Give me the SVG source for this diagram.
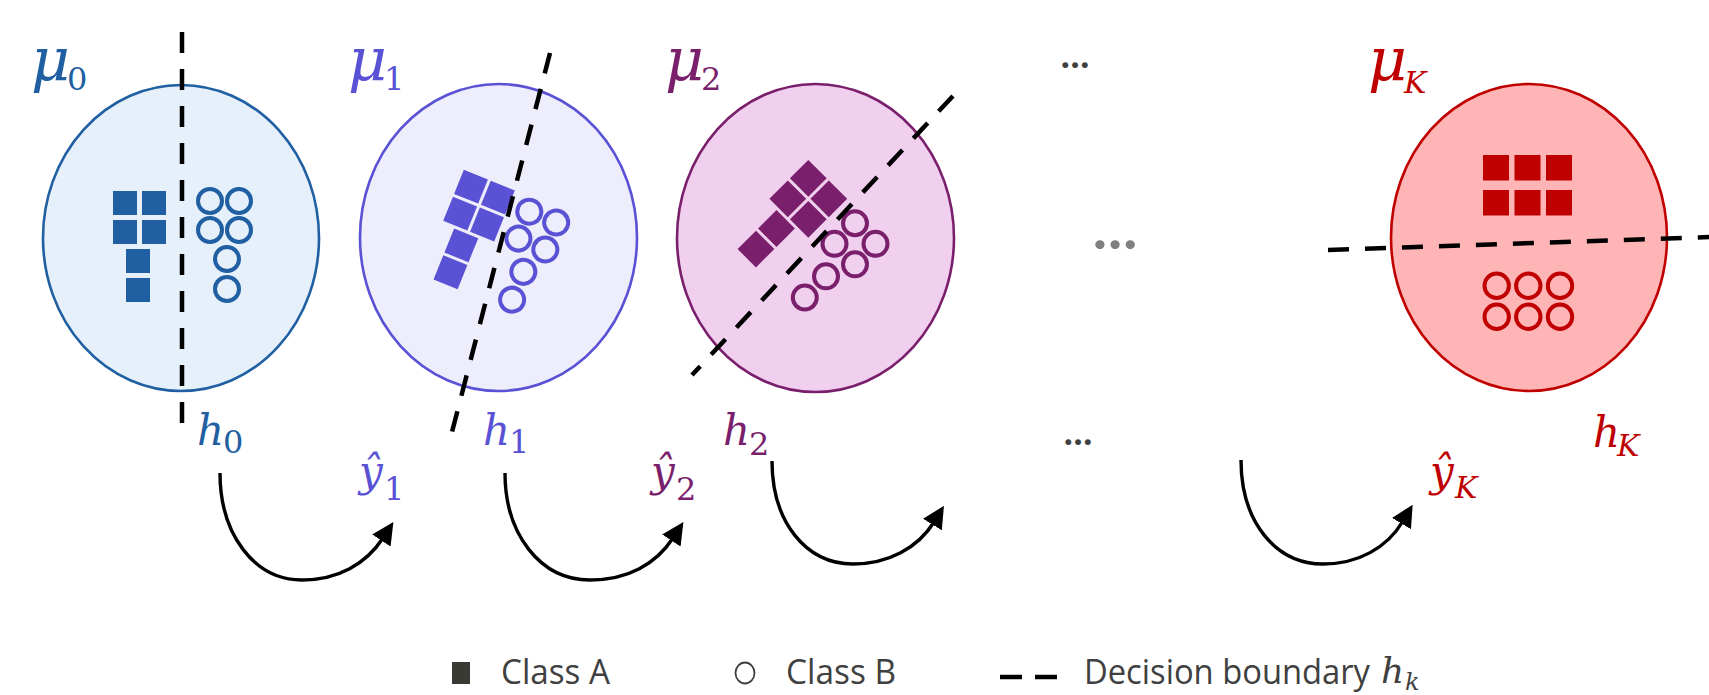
<svg xmlns="http://www.w3.org/2000/svg" xmlns:xlink="http://www.w3.org/1999/xlink" width="1709" height="695" viewBox="0 0 1709 695">
<style>
.bnd{fill:none;stroke:#000;stroke-width:4.5;stroke-dasharray:21 16}
.ell{stroke-width:2.6}
.mu{font-family:"DejaVu Serif",serif;font-style:italic;font-size:60px}
.lab{font-family:"DejaVu Serif",serif;font-style:italic;font-size:42px}
.dig{font-style:normal;font-size:32px}
.subi{font-style:italic;font-size:30px}
.arr{fill:none;stroke:#000;stroke-width:3.4;marker-end:url(#ah)}
.leg{font-family:"Open Sans","Noto Sans",sans-serif;font-size:34px;fill:#404040}
.legm{font-family:"DejaVu Serif",serif;font-style:italic;fill:#404040}
.dots{font-family:Lato,"DejaVu Sans",sans-serif;font-weight:900}
</style>
<defs>
<marker id="ah" markerUnits="userSpaceOnUse" markerWidth="22" markerHeight="22" viewBox="0 0 22 22" refX="3" refY="11" orient="auto">
<path d="M0,0 L22,11 L0,22 z" fill="#000"/>
</marker>
<g id="sq24">
<rect x="-12" y="-12" width="24" height="24"/><rect x="17" y="-12" width="24" height="24"/>
<rect x="-12" y="17" width="24" height="24"/><rect x="17" y="17" width="24" height="24"/>
<rect x="1" y="46" width="24" height="24"/><rect x="1" y="75" width="24" height="24"/>
</g>
<g id="sq26">
<rect x="-13" y="-13" width="26" height="26"/><rect x="16" y="-13" width="26" height="26"/>
<rect x="-13" y="16" width="26" height="26"/><rect x="16" y="16" width="26" height="26"/>
<rect x="0" y="45" width="26" height="26"/><rect x="0" y="74" width="26" height="26"/>
</g>
<g id="cb" fill="none" stroke-width="4">
<circle cx="0" cy="0" r="12"/><circle cx="29" cy="0" r="12"/>
<circle cx="0" cy="29" r="12"/><circle cx="29" cy="29" r="12"/>
<circle cx="17" cy="58" r="12"/><circle cx="17" cy="88" r="12"/>
</g>
</defs>
<rect width="1709" height="695" fill="#fff"/>

<g id="node0">
<ellipse class="ell" cx="181" cy="238" rx="138" ry="153" fill="#E6F0FA" stroke="#1F5FA2"/>
<use xlink:href="#sq24" href="#sq24" transform="translate(125,203)" fill="#1F5FA2"/>
<use xlink:href="#cb" href="#cb" transform="translate(210,201)" stroke="#1F5FA2"/>
<line class="bnd" x1="182" y1="32" x2="182" y2="423"/>
<text class="mu" x="31" y="81" fill="#1F5FA2">μ<tspan class="dig" x="67" y="90">0</tspan></text>
<text class="lab" x="197" y="445" fill="#1F5FA2">h<tspan class="dig" x="223" y="453">0</tspan></text>
</g>

<g id="node1">
<ellipse class="ell" cx="498.5" cy="237.5" rx="138.5" ry="153.5" fill="#EEEDFB" stroke="#5A52D5"/>
<use xlink:href="#sq26" href="#sq26" transform="translate(471,186.7) rotate(22)" fill="#5A52D5"/>
<use xlink:href="#cb" href="#cb" transform="translate(529.3,211.7) rotate(22)" stroke="#5A52D5"/>
<line class="bnd" x1="550" y1="53" x2="452" y2="432"/>
<text class="mu" x="348" y="81" fill="#5A52D5">μ<tspan class="dig" x="384" y="90">1</tspan></text>
<text class="lab" x="483" y="445" fill="#5A52D5">h<tspan class="dig" x="509" y="453">1</tspan></text>
<text class="lab" x="359" y="486" fill="#5A52D5">ŷ<tspan class="dig" x="384" y="500">1</tspan></text>
</g>

<g id="node2">
<ellipse class="ell" cx="815.5" cy="238" rx="138.5" ry="154" fill="#F0D0EE" stroke="#7A1F6C"/>
<use xlink:href="#sq26" href="#sq26" transform="translate(808.3,178.3) rotate(45)" fill="#7A1F6C"/>
<use xlink:href="#cb" href="#cb" transform="translate(855,223.3) rotate(45)" stroke="#7A1F6C"/>
<line class="bnd" x1="953" y1="96" x2="692" y2="375"/>
<text class="mu" x="665" y="81" fill="#7A1F6C">μ<tspan class="dig" x="701" y="90">2</tspan></text>
<text class="lab" x="723" y="445" fill="#7A1F6C">h<tspan class="dig" x="749" y="455">2</tspan></text>
<text class="lab" x="651" y="486" fill="#7A1F6C">ŷ<tspan class="dig" x="676" y="500">2</tspan></text>
</g>

<g id="dots">
<text class="dots" x="1075" y="68" font-size="36" fill="#404040" text-anchor="middle">…</text>
<text class="dots" x="1115" y="249" font-size="56" fill="#808080" text-anchor="middle">…</text>
<text class="dots" x="1078" y="445" font-size="36" fill="#404040" text-anchor="middle">…</text>
</g>

<g id="nodeK">
<ellipse class="ell" cx="1529" cy="237.5" rx="138" ry="153.5" fill="#FFB5B5" stroke="#C00000"/>
<g fill="#C00000">
<rect x="1483" y="155" width="26" height="25.5"/><rect x="1514.5" y="155" width="26" height="25.5"/><rect x="1546" y="155" width="26" height="25.5"/>
<rect x="1483" y="190" width="26" height="25.5"/><rect x="1514.5" y="190" width="26" height="25.5"/><rect x="1546" y="190" width="26" height="25.5"/>
</g>
<g fill="none" stroke="#C00000" stroke-width="4">
<circle cx="1496.7" cy="285.7" r="12.2"/><circle cx="1528.3" cy="285.7" r="12.2"/><circle cx="1560" cy="285.7" r="12.2"/>
<circle cx="1496.7" cy="316.7" r="12.2"/><circle cx="1528.3" cy="316.7" r="12.2"/><circle cx="1560" cy="316.7" r="12.2"/>
</g>
<line class="bnd" x1="1328" y1="250" x2="1712" y2="237"/>
<text class="mu" x="1368" y="81" fill="#C00000">μ<tspan class="subi" x="1404" y="93">K</tspan></text>
<text class="lab" x="1593" y="447" fill="#C00000">h<tspan class="subi" x="1617" y="456">K</tspan></text>
<text class="lab" x="1430" y="486" fill="#C00000">ŷ<tspan class="subi" x="1455" y="498">K</tspan></text>
</g>

<g id="connectors">
<path class="arr" d="M220,473 C220,534 254,580 302,580 C338,580 366,564 383,538"/>
<path class="arr" d="M505,473 C505,534 540,580 590,580 C628,580 656,564 673,538"/>
<path class="arr" d="M772,461 C772,522 806,564 853,564 C888,564 918,548 934,522"/>
<path class="arr" d="M1241,460 C1241,521 1275,564 1323,564 C1358,564 1387,548 1403,521"/>
</g>

<g id="legend">
<rect x="452" y="662" width="18" height="22" fill="#3A3A35"/>
<text class="leg" x="501" y="684" textLength="109" lengthAdjust="spacingAndGlyphs">Class A</text>
<ellipse cx="745" cy="673" rx="9.5" ry="10.5" fill="none" stroke="#404040" stroke-width="1.8"/>
<text class="leg" x="786" y="684" textLength="110" lengthAdjust="spacingAndGlyphs">Class B</text>
<line x1="1000" y1="677" x2="1057" y2="677" stroke="#000" stroke-width="4.5" stroke-dasharray="22 13"/>
<text class="leg" x="1084" y="684" textLength="286" lengthAdjust="spacingAndGlyphs">Decision boundary</text>
<text class="legm" x="1381" y="683" style="font-size:36px">h<tspan x="1405" y="690" style="font-size:24px">k</tspan></text>
</g>
</svg>
